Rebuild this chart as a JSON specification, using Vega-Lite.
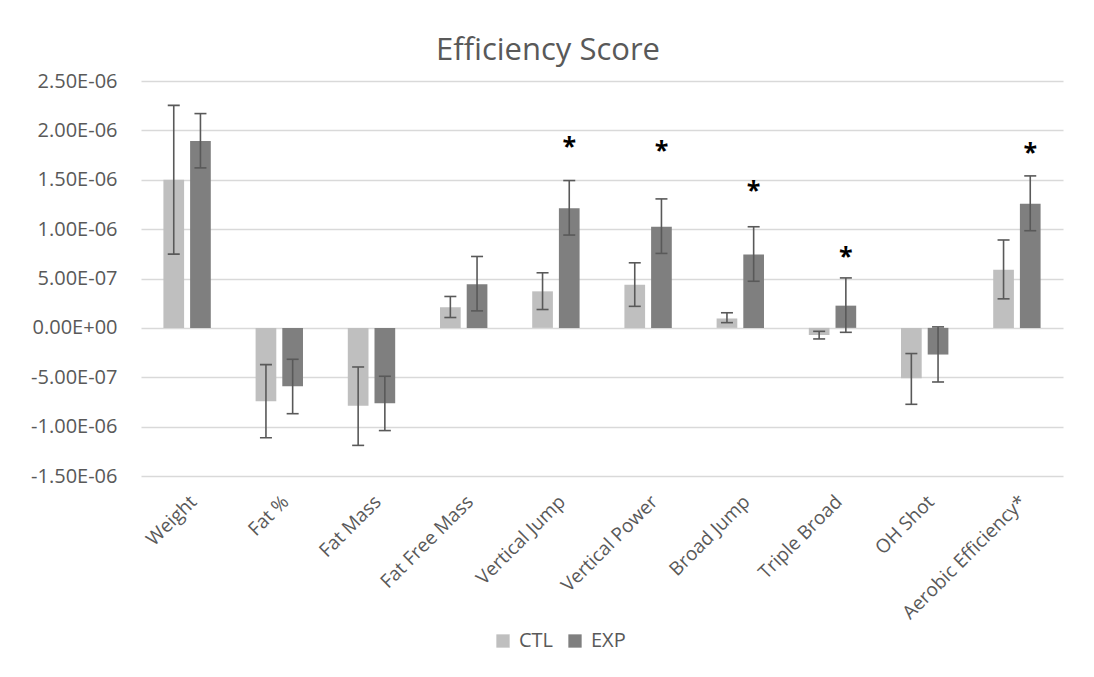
{
  "$schema": "https://vega.github.io/schema/vega-lite/v6.json",
  "width": 922,
  "height": 395,
  "autosize": {"type": "none"},
  "padding": {"left": 141, "top": 81, "right": 31, "bottom": 201},
  "background": "white",
  "title": {
    "text": "Efficiency Score",
    "anchor": "middle",
    "frame": "group",
    "dx": -54,
    "dy": 39,
    "baseline": "alphabetic",
    "offset": 19,
    "fontSize": 31,
    "fontWeight": "normal",
    "color": "#595959",
    "font": "Open Sans"
  },
  "datasets": {
    "bars": [
      {"measure": "Weight", "group": "CTL", "value": 1.50e-6, "lo": 0.747e-6, "hi": 2.253e-6},
      {"measure": "Weight", "group": "EXP", "value": 1.893e-6, "lo": 1.62e-6, "hi": 2.17e-6},
      {"measure": "Fat %", "group": "CTL", "value": -0.743e-6, "lo": -1.113e-6, "hi": -0.372e-6},
      {"measure": "Fat %", "group": "EXP", "value": -0.592e-6, "lo": -0.869e-6, "hi": -0.318e-6},
      {"measure": "Fat Mass", "group": "CTL", "value": -0.788e-6, "lo": -1.19e-6, "hi": -0.396e-6},
      {"measure": "Fat Mass", "group": "EXP", "value": -0.764e-6, "lo": -1.04e-6, "hi": -0.49e-6},
      {"measure": "Fat Free Mass", "group": "CTL", "value": 0.21e-6, "lo": 0.105e-6, "hi": 0.318e-6},
      {"measure": "Fat Free Mass", "group": "EXP", "value": 0.443e-6, "lo": 0.172e-6, "hi": 0.723e-6},
      {"measure": "Vertical Jump", "group": "CTL", "value": 0.37e-6, "lo": 0.186e-6, "hi": 0.558e-6},
      {"measure": "Vertical Jump", "group": "EXP", "value": 1.212e-6, "lo": 0.94e-6, "hi": 1.492e-6},
      {"measure": "Vertical Power", "group": "CTL", "value": 0.436e-6, "lo": 0.218e-6, "hi": 0.659e-6},
      {"measure": "Vertical Power", "group": "EXP", "value": 1.025e-6, "lo": 0.754e-6, "hi": 1.306e-6},
      {"measure": "Broad Jump", "group": "CTL", "value": 0.095e-6, "lo": 0.053e-6, "hi": 0.153e-6},
      {"measure": "Broad Jump", "group": "EXP", "value": 0.744e-6, "lo": 0.472e-6, "hi": 1.024e-6},
      {"measure": "Triple Broad", "group": "CTL", "value": -0.072e-6, "lo": -0.112e-6, "hi": -0.035e-6},
      {"measure": "Triple Broad", "group": "EXP", "value": 0.225e-6, "lo": -0.045e-6, "hi": 0.506e-6},
      {"measure": "OH Shot", "group": "CTL", "value": -0.51e-6, "lo": -0.774e-6, "hi": -0.26e-6},
      {"measure": "OH Shot", "group": "EXP", "value": -0.27e-6, "lo": -0.548e-6, "hi": 0.01e-6},
      {"measure": "Aerobic Efficiency*", "group": "CTL", "value": 0.588e-6, "lo": 0.294e-6, "hi": 0.89e-6},
      {"measure": "Aerobic Efficiency*", "group": "EXP", "value": 1.258e-6, "lo": 0.984e-6, "hi": 1.539e-6}
    ],
    "stars": [
      {"measure": "Vertical Jump", "group": "EXP", "mark": "*", "y": 1.88e-6},
      {"measure": "Vertical Power", "group": "EXP", "mark": "*", "y": 1.846e-6},
      {"measure": "Broad Jump", "group": "EXP", "mark": "*", "y": 1.436e-6},
      {"measure": "Triple Broad", "group": "EXP", "mark": "*", "y": 0.77e-6},
      {"measure": "Aerobic Efficiency*", "group": "EXP", "mark": "*", "y": 1.818e-6}
    ]
  },
  "encoding": {
    "x": {
      "field": "measure",
      "type": "nominal",
      "sort": null,
      "scale": {"paddingInner": 0.486, "paddingOuter": 0.243},
      "axis": {
        "title": null,
        "labelAngle": -45,
        "labelAlign": "right",
        "labelBaseline": "top",
        "labelPadding": 16,
        "labelDx": -10,
        "labelDy": 3,
        "labelFontSize": 19,
        "labelColor": "#595959",
        "labelFont": "Open Sans",
        "labelLimit": 400,
        "domain": false,
        "ticks": false,
        "grid": false
      }
    },
    "xOffset": {
      "field": "group",
      "type": "nominal",
      "scale": {"domain": ["CTL", "EXP"], "paddingInner": 0.225, "paddingOuter": 0}
    }
  },
  "layer": [
    {
      "data": {"name": "bars"},
      "mark": {"type": "bar"},
      "encoding": {
        "y": {
          "field": "value",
          "type": "quantitative",
          "scale": {"domain": [-1.5e-6, 2.5e-6], "nice": false, "zero": false},
          "axis": {
            "title": null,
            "values": [-1.5e-6, -1e-6, -5e-7, 0, 5e-7, 1e-6, 1.5e-6, 2e-6, 2.5e-6],
            "labelExpr": "replace(replace(replace(format(datum.value, '.2e'), 'e-', 'E-0'), 'e+', 'E+0'), '\u2212', '-')",
            "domain": false,
            "ticks": false,
            "grid": true,
            "gridColor": "#D9D9D9",
            "gridWidth": 1.3,
            "labelFontSize": 20,
            "labelColor": "#595959",
            "labelFont": "Open Sans",
            "labelPadding": 24
          }
        },
        "color": {
          "field": "group",
          "type": "nominal",
          "scale": {"domain": ["CTL", "EXP"], "range": ["#BFBFBF", "#7F7F7F"]},
          "legend": {
            "title": null,
            "orient": "none",
            "direction": "horizontal",
            "legendX": 352,
            "legendY": 550,
            "symbolType": "square",
            "symbolSize": 177,
            "symbolStrokeWidth": 0,
            "symbolOpacity": 1,
            "labelFontSize": 20,
            "labelColor": "#595959",
            "labelFont": "Open Sans",
            "labelOffset": 6,
            "columnPadding": 11
          }
        }
      }
    },
    {
      "data": {"name": "bars"},
      "mark": {"type": "rule", "color": "#595959", "strokeWidth": 1.6},
      "encoding": {
        "y": {"field": "lo", "type": "quantitative"},
        "y2": {"field": "hi"}
      }
    },
    {
      "data": {"name": "bars"},
      "mark": {"type": "tick", "orient": "horizontal", "size": 12, "thickness": 1.6, "color": "#595959", "opacity": 1},
      "encoding": {
        "y": {"field": "lo", "type": "quantitative"}
      }
    },
    {
      "data": {"name": "bars"},
      "mark": {"type": "tick", "orient": "horizontal", "size": 12, "thickness": 1.6, "color": "#595959", "opacity": 1},
      "encoding": {
        "y": {"field": "hi", "type": "quantitative"}
      }
    },
    {
      "data": {"name": "stars"},
      "mark": {"type": "text", "font": "Open Sans", "fontSize": 25, "fontWeight": "bold", "color": "#000000", "baseline": "alphabetic", "dy": 13},
      "encoding": {
        "y": {"field": "y", "type": "quantitative"},
        "text": {"field": "mark"}
      }
    }
  ],
  "config": {
    "font": "Open Sans",
    "view": {"stroke": null}
  }
}
